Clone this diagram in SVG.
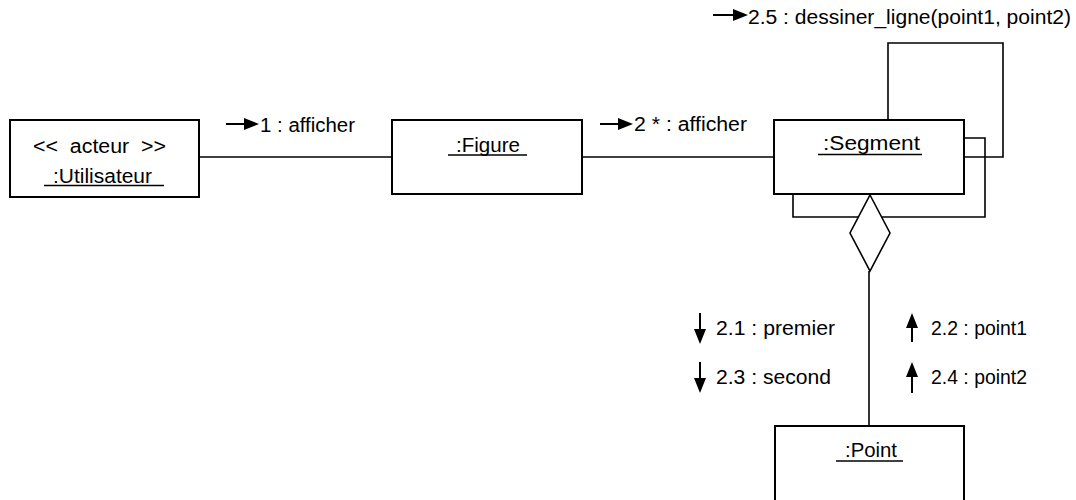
<svg xmlns="http://www.w3.org/2000/svg" width="1076" height="500" viewBox="0 0 1076 500">
<style>
text{font-family:"Liberation Sans",Arial,sans-serif;font-size:20px;fill:#000}
.box{fill:#fff;stroke:#000;stroke-width:2}
.ln{fill:none;stroke:#000;stroke-width:1.6}
.ul{stroke:#000;stroke-width:1.4}
.ar{stroke:#000;stroke-width:2}
.hd{fill:#000;stroke:none}
</style>
<rect width="1076" height="500" fill="#fff"/>
<g id="connectors">
<line class="ln" x1="199" y1="157" x2="392" y2="157"/>
<line class="ln" x1="582" y1="157" x2="774" y2="157"/>
<polyline class="ln" points="888,120 888,43 1003,43 1003,157 964,157"/>
<polyline class="ln" points="964,138 985,138 985,217 793,217 793,194"/>
<line class="ln" x1="869" y1="271" x2="869" y2="426"/>
<polygon points="870,195 890,233 870,271 850,233" fill="#fff" stroke="#000" stroke-width="1.6"/>
</g>
<g id="messages">
<line class="ar" x1="226" y1="124" x2="246" y2="124"/><polygon class="hd" points="244,118 259,124 244,130"/>
<text x="260" y="132" textLength="95" lengthAdjust="spacingAndGlyphs">1 : afficher</text>
<line class="ar" x1="600" y1="124" x2="620" y2="124"/><polygon class="hd" points="618,118 633,124 618,130"/>
<text x="634" y="131" textLength="113" lengthAdjust="spacingAndGlyphs">2 * : afficher</text>
<line class="ar" x1="713" y1="15" x2="736" y2="15"/><polygon class="hd" points="733,9 748,15 733,21"/>
<text x="748" y="24" textLength="323" lengthAdjust="spacingAndGlyphs">2.5 : dessiner_ligne(point1, point2)</text>
<line class="ar" x1="700" y1="313" x2="700" y2="332"/><polygon class="hd" points="694,329 700,344 706,329"/>
<text x="716" y="335" textLength="119" lengthAdjust="spacingAndGlyphs">2.1 : premier</text>
<line class="ar" x1="700" y1="362" x2="700" y2="381"/><polygon class="hd" points="694,378 700,393 706,378"/>
<text x="716" y="384" textLength="115" lengthAdjust="spacingAndGlyphs">2.3 : second</text>
<line class="ar" x1="912" y1="326" x2="912" y2="342"/><polygon class="hd" points="906,328 912,313 918,328"/>
<text x="931" y="335" textLength="96" lengthAdjust="spacingAndGlyphs">2.2 : point1</text>
<line class="ar" x1="912" y1="375" x2="912" y2="393"/><polygon class="hd" points="906,377 912,362 918,377"/>
<text x="931" y="384" textLength="96" lengthAdjust="spacingAndGlyphs">2.4 : point2</text>
</g>
<g id="utilisateur">
<rect class="box" x="10" y="120" width="189" height="77"/>
<text x="33" y="153" textLength="133" lengthAdjust="spacingAndGlyphs" xml:space="preserve">&lt;&lt;  acteur  &gt;&gt;</text>
<text x="53" y="183" textLength="99" lengthAdjust="spacingAndGlyphs">:Utilisateur</text>
<line class="ul" x1="44" y1="185.5" x2="164" y2="185.5"/>
</g>
<g id="figure">
<rect class="box" x="392" y="120" width="190" height="74"/>
<text x="456" y="152" textLength="64" lengthAdjust="spacingAndGlyphs">:Figure</text>
<line class="ul" x1="448" y1="155" x2="527" y2="155"/>
</g>
<g id="segment">
<rect class="box" x="774" y="120" width="190" height="74"/>
<text x="823" y="150" textLength="97" lengthAdjust="spacingAndGlyphs">:Segment</text>
<line class="ul" x1="818" y1="154.5" x2="922" y2="154.5"/>
</g>
<g id="point">
<rect class="box" x="775" y="426" width="189" height="84"/>
<text x="845" y="457" textLength="52" lengthAdjust="spacingAndGlyphs">:Point</text>
<line class="ul" x1="836" y1="461" x2="903" y2="461"/>
</g>
</svg>
